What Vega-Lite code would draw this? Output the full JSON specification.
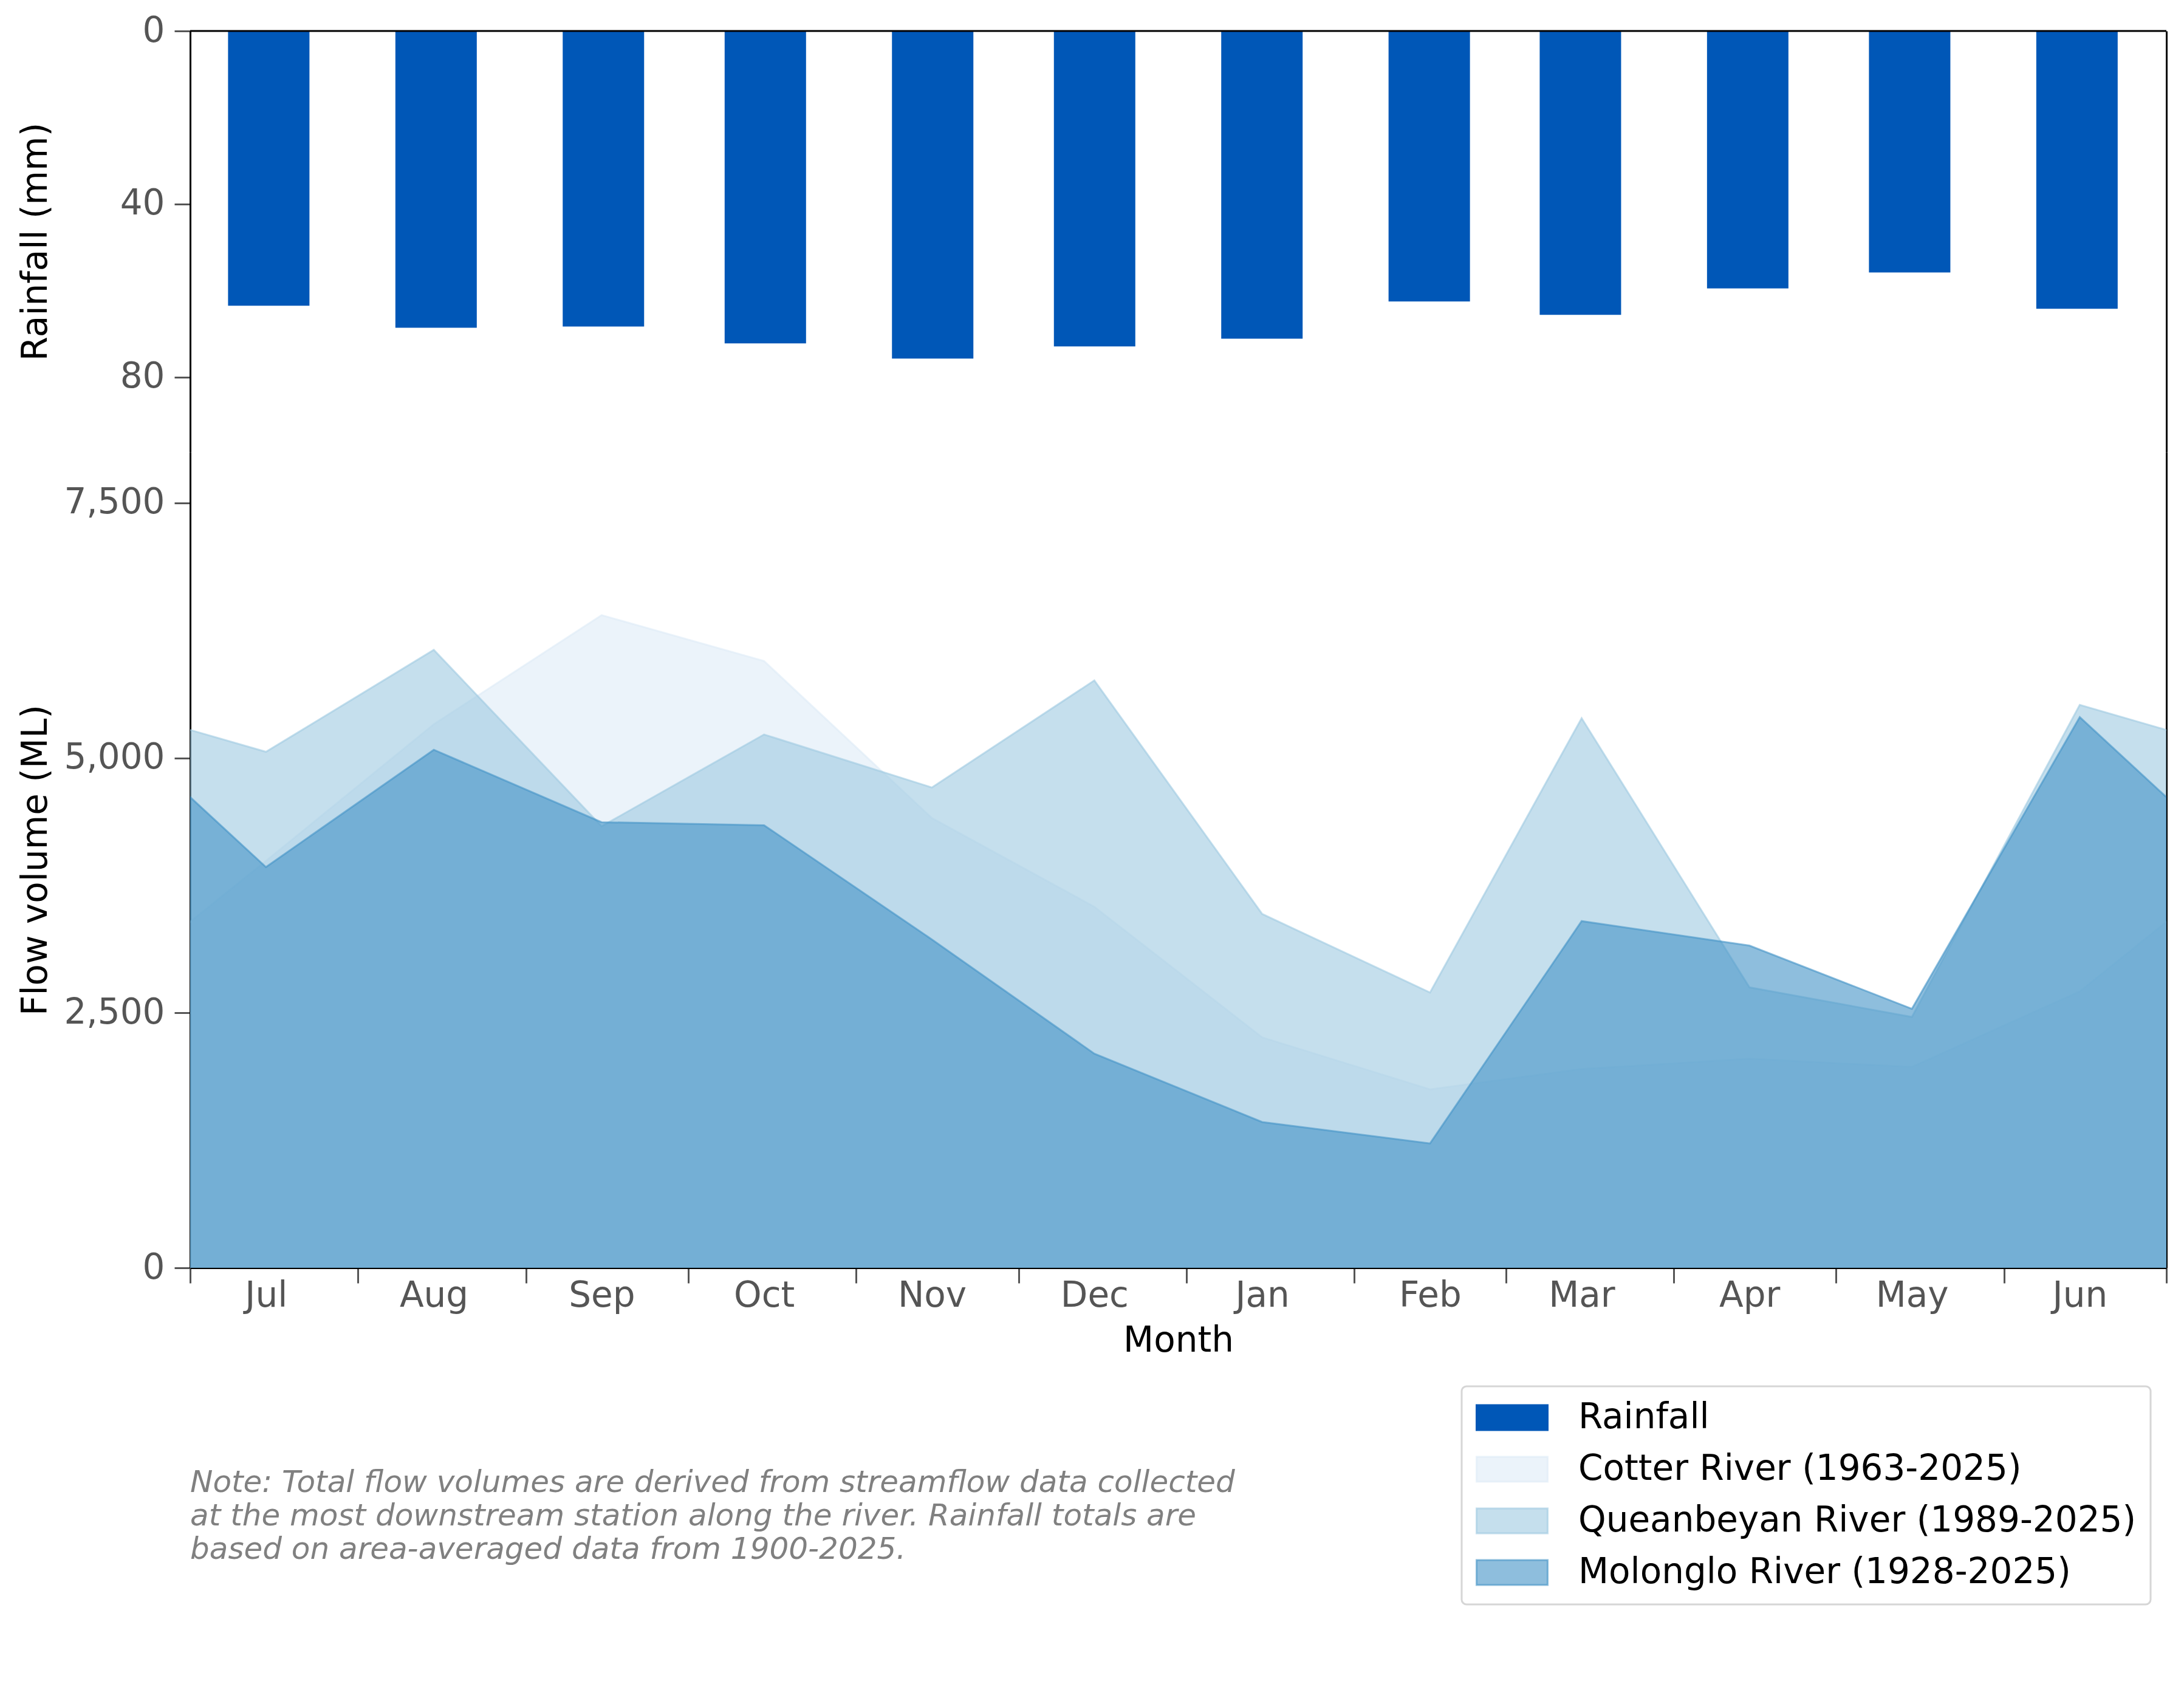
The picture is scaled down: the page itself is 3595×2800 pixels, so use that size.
{
  "$schema": "https://vega.github.io/schema/vega-lite/v6.json",
  "background": "white",
  "autosize": {"type": "pad"},
  "padding": {"left": 30, "top": 22, "right": 30, "bottom": 30},
  "config": {
    "font": "DejaVu Sans",
    "view": {"stroke": null},
    "legend": {"strokeWidth": 3},
    "axis": {
      "domainColor": "black",
      "domainWidth": 3,
      "tickColor": "#555555",
      "tickWidth": 3,
      "tickSize": 25,
      "labelFont": "DejaVu Sans",
      "labelFontSize": 58,
      "labelColor": "#555555",
      "titleFont": "DejaVu Sans",
      "titleFontSize": 58,
      "titleColor": "black",
      "titleFontWeight": "normal",
      "grid": false
    }
  },
  "datasets": {
    "rain": [
      {"month": "2022-07-15", "series": "Rainfall", "rain": 63.5},
      {"month": "2022-08-15", "series": "Rainfall", "rain": 68.6},
      {"month": "2022-09-15", "series": "Rainfall", "rain": 68.3},
      {"month": "2022-10-15", "series": "Rainfall", "rain": 72.2},
      {"month": "2022-11-15", "series": "Rainfall", "rain": 75.7},
      {"month": "2022-12-15", "series": "Rainfall", "rain": 72.9},
      {"month": "2023-01-15", "series": "Rainfall", "rain": 71.1},
      {"month": "2023-02-15", "series": "Rainfall", "rain": 62.5},
      {"month": "2023-03-15", "series": "Rainfall", "rain": 65.6},
      {"month": "2023-04-15", "series": "Rainfall", "rain": 59.5},
      {"month": "2023-05-15", "series": "Rainfall", "rain": 55.8},
      {"month": "2023-06-15", "series": "Rainfall", "rain": 64.2}
    ],
    "flow": [
      {"month": "2022-06-15", "series": "Cotter River (1963-2025)", "flow": 2710},
      {"month": "2022-07-15", "series": "Cotter River (1963-2025)", "flow": 3990},
      {"month": "2022-08-15", "series": "Cotter River (1963-2025)", "flow": 5330},
      {"month": "2022-09-15", "series": "Cotter River (1963-2025)", "flow": 6400},
      {"month": "2022-10-15", "series": "Cotter River (1963-2025)", "flow": 5950},
      {"month": "2022-11-15", "series": "Cotter River (1963-2025)", "flow": 4410},
      {"month": "2022-12-15", "series": "Cotter River (1963-2025)", "flow": 3540},
      {"month": "2023-01-15", "series": "Cotter River (1963-2025)", "flow": 2260},
      {"month": "2023-02-15", "series": "Cotter River (1963-2025)", "flow": 1750},
      {"month": "2023-03-15", "series": "Cotter River (1963-2025)", "flow": 1950},
      {"month": "2023-04-15", "series": "Cotter River (1963-2025)", "flow": 2050},
      {"month": "2023-05-15", "series": "Cotter River (1963-2025)", "flow": 1970},
      {"month": "2023-06-15", "series": "Cotter River (1963-2025)", "flow": 2710},
      {"month": "2023-07-15", "series": "Cotter River (1963-2025)", "flow": 3990},
      {"month": "2022-06-15", "series": "Queanbeyan River (1989-2025)", "flow": 5520},
      {"month": "2022-07-15", "series": "Queanbeyan River (1989-2025)", "flow": 5060},
      {"month": "2022-08-15", "series": "Queanbeyan River (1989-2025)", "flow": 6060},
      {"month": "2022-09-15", "series": "Queanbeyan River (1989-2025)", "flow": 4330},
      {"month": "2022-10-15", "series": "Queanbeyan River (1989-2025)", "flow": 5230},
      {"month": "2022-11-15", "series": "Queanbeyan River (1989-2025)", "flow": 4710},
      {"month": "2022-12-15", "series": "Queanbeyan River (1989-2025)", "flow": 5760},
      {"month": "2023-01-15", "series": "Queanbeyan River (1989-2025)", "flow": 3470},
      {"month": "2023-02-15", "series": "Queanbeyan River (1989-2025)", "flow": 2700},
      {"month": "2023-03-15", "series": "Queanbeyan River (1989-2025)", "flow": 5390},
      {"month": "2023-04-15", "series": "Queanbeyan River (1989-2025)", "flow": 2750},
      {"month": "2023-05-15", "series": "Queanbeyan River (1989-2025)", "flow": 2460},
      {"month": "2023-06-15", "series": "Queanbeyan River (1989-2025)", "flow": 5520},
      {"month": "2023-07-15", "series": "Queanbeyan River (1989-2025)", "flow": 5060},
      {"month": "2022-06-15", "series": "Molonglo River (1928-2025)", "flow": 5400},
      {"month": "2022-07-15", "series": "Molonglo River (1928-2025)", "flow": 3930},
      {"month": "2022-08-15", "series": "Molonglo River (1928-2025)", "flow": 5080},
      {"month": "2022-09-15", "series": "Molonglo River (1928-2025)", "flow": 4370},
      {"month": "2022-10-15", "series": "Molonglo River (1928-2025)", "flow": 4340},
      {"month": "2022-11-15", "series": "Molonglo River (1928-2025)", "flow": 3220},
      {"month": "2022-12-15", "series": "Molonglo River (1928-2025)", "flow": 2100},
      {"month": "2023-01-15", "series": "Molonglo River (1928-2025)", "flow": 1430},
      {"month": "2023-02-15", "series": "Molonglo River (1928-2025)", "flow": 1220},
      {"month": "2023-03-15", "series": "Molonglo River (1928-2025)", "flow": 3400},
      {"month": "2023-04-15", "series": "Molonglo River (1928-2025)", "flow": 3160},
      {"month": "2023-05-15", "series": "Molonglo River (1928-2025)", "flow": 2540},
      {"month": "2023-06-15", "series": "Molonglo River (1928-2025)", "flow": 5400},
      {"month": "2023-07-15", "series": "Molonglo River (1928-2025)", "flow": 3930}
    ]
  },
  "spacing": 0,
  "bounds": "flush",
  "resolve": {"scale": {"color": "shared"}, "legend": {"color": "shared"}},
  "vconcat": [
    {
      "width": 3253,
      "height": 693,
      "layer": [
        {
          "data": {"name": "rain"},
          "mark": {"type": "bar", "width": 134},
          "encoding": {
            "x": {
              "field": "month",
              "type": "temporal",
              "scale": {"type": "utc", "domain": [{"year": 2022, "month": 7, "date": 1, "utc": true}, {"year": 2023, "month": 7, "date": 1, "utc": true}]},
              "axis": null
            },
            "y": {
              "field": "rain",
              "type": "quantitative",
              "scale": {"domain": [0, 97.3], "reverse": true, "nice": false, "zero": true},
              "axis": {"orient": "left", "values": [0, 40, 80], "format": ".0f", "title": "Rainfall (mm)", "titleX": -237, "titleBaseline": "alphabetic", "labelPadding": 16, "tickSize": 26}
            },
            "color": {
              "field": "series",
              "type": "nominal",
              "scale": {
                "domain": ["Rainfall", "Cotter River (1963-2025)", "Queanbeyan River (1989-2025)", "Molonglo River (1928-2025)"],
                "range": ["#0057b7", "rgba(222,235,247,0.6)", "rgba(158,202,225,0.6)", "rgba(66,146,198,0.6)"]
              },
              "legend": {"title": null, "orient": "none", "legendX": 2093, "legendY": 2231, "symbolType": "M-1,-0.35H1V0.35H-1Z", "symbolSize": 13689, "clipHeight": 57, "labelFont": "DejaVu Sans", "labelFontSize": 58, "labelColor": "black", "labelOffset": 49, "labelLimit": 3000, "rowPadding": 26, "padding": 23, "strokeColor": "#d6d6d6", "cornerRadius": 8, "fillColor": "white", "symbolStrokeWidth": 0, "encode": {"symbols": {"update": {"stroke": {"scale": "color", "field": "value"}, "strokeWidth": {"value": 3}}}}}
            }
          }
        },
        {
          "data": {"values": [{}]},
          "mark": {"type": "rule", "color": "black", "strokeWidth": 3},
          "encoding": {
            "y": {"datum": 0, "type": "quantitative", "axis": {"orient": "right", "labels": false, "ticks": false, "title": null}}
          }
        }
      ],
      "resolve": {"axis": {"y": "independent"}}
    },
    {
      "width": 3253,
      "height": 1343,
      "title": {
        "text": [
          "Note: Total flow volumes are derived from streamflow data collected",
          "at the most downstream station along the river. Rainfall totals are",
          "based on area-averaged data from 1900-2025."
        ],
        "orient": "bottom",
        "anchor": "start",
        "frame": "group",
        "font": "DejaVu Sans",
        "fontSize": 50,
        "fontStyle": "italic",
        "fontWeight": "normal",
        "color": "#808080",
        "lineHeight": 55,
        "offset": 180
      },
      "layer": [
        {
          "data": {"name": "flow"},
          "transform": [{"filter": "datum.series === 'Cotter River (1963-2025)'"}],
          "mark": {"type": "area", "clip": true, "opacity": 1},
          "encoding": {
            "x": {
              "field": "month",
              "type": "temporal",
              "scale": {"type": "utc", "domain": [{"year": 2022, "month": 7, "date": 1, "utc": true}, {"year": 2023, "month": 7, "date": 1, "utc": true}]},
              "axis": {
                "orient": "bottom",
                "values": [
                  {"year": 2022, "month": 7, "date": 1, "utc": true},
                  {"year": 2022, "month": 8, "date": 1, "utc": true},
                  {"year": 2022, "month": 9, "date": 1, "utc": true},
                  {"year": 2022, "month": 10, "date": 1, "utc": true},
                  {"year": 2022, "month": 11, "date": 1, "utc": true},
                  {"year": 2022, "month": 12, "date": 1, "utc": true},
                  {"year": 2023, "month": 1, "date": 1, "utc": true},
                  {"year": 2023, "month": 2, "date": 1, "utc": true},
                  {"year": 2023, "month": 3, "date": 1, "utc": true},
                  {"year": 2023, "month": 4, "date": 1, "utc": true},
                  {"year": 2023, "month": 5, "date": 1, "utc": true},
                  {"year": 2023, "month": 6, "date": 1, "utc": true},
                  {"year": 2023, "month": 7, "date": 1, "utc": true}
                ],
                "labels": false,
                "title": null,
                "tickSize": 25
              }
            },
            "y": {
              "field": "flow",
              "type": "quantitative",
              "stack": null,
              "scale": {"domain": [0, 8000], "nice": false},
              "axis": {"orient": "left", "values": [0, 2500, 5000, 7500], "format": ",.0f", "title": "Flow volume (ML)", "titleX": -237, "titleBaseline": "alphabetic", "labelPadding": 16, "tickSize": 26}
            },
            "color": {
              "field": "series",
              "type": "nominal",
              "scale": {
                "domain": ["Rainfall", "Cotter River (1963-2025)", "Queanbeyan River (1989-2025)", "Molonglo River (1928-2025)"],
                "range": ["#0057b7", "rgba(222,235,247,0.6)", "rgba(158,202,225,0.6)", "rgba(66,146,198,0.6)"]
              },
              "legend": {"title": null, "orient": "none", "legendX": 2093, "legendY": 2231, "symbolType": "M-1,-0.35H1V0.35H-1Z", "symbolSize": 13689, "clipHeight": 57, "labelFont": "DejaVu Sans", "labelFontSize": 58, "labelColor": "black", "labelOffset": 49, "labelLimit": 3000, "rowPadding": 26, "padding": 23, "strokeColor": "#d6d6d6", "cornerRadius": 8, "fillColor": "white", "symbolStrokeWidth": 0, "encode": {"symbols": {"update": {"stroke": {"scale": "color", "field": "value"}, "strokeWidth": {"value": 3}}}}}
            }
          }
        },
        {
          "data": {"name": "flow"},
          "transform": [{"filter": "datum.series === 'Cotter River (1963-2025)'"}],
          "mark": {"type": "line", "clip": true, "strokeWidth": 3, "stroke": "rgba(222,235,247,0.6)"},
          "encoding": {
            "x": {"field": "month", "type": "temporal", "axis": null},
            "y": {"field": "flow", "type": "quantitative", "axis": null}
          }
        },
        {
          "data": {"name": "flow"},
          "transform": [{"filter": "datum.series === 'Queanbeyan River (1989-2025)'"}],
          "mark": {"type": "area", "clip": true, "opacity": 1},
          "encoding": {
            "x": {"field": "month", "type": "temporal", "axis": null},
            "y": {"field": "flow", "type": "quantitative", "stack": null, "axis": null},
            "color": {
              "field": "series",
              "type": "nominal",
              "scale": {
                "domain": ["Rainfall", "Cotter River (1963-2025)", "Queanbeyan River (1989-2025)", "Molonglo River (1928-2025)"],
                "range": ["#0057b7", "rgba(222,235,247,0.6)", "rgba(158,202,225,0.6)", "rgba(66,146,198,0.6)"]
              },
              "legend": {"title": null, "orient": "none", "legendX": 2093, "legendY": 2231, "symbolType": "M-1,-0.35H1V0.35H-1Z", "symbolSize": 13689, "clipHeight": 57, "labelFont": "DejaVu Sans", "labelFontSize": 58, "labelColor": "black", "labelOffset": 49, "labelLimit": 3000, "rowPadding": 26, "padding": 23, "strokeColor": "#d6d6d6", "cornerRadius": 8, "fillColor": "white", "symbolStrokeWidth": 0, "encode": {"symbols": {"update": {"stroke": {"scale": "color", "field": "value"}, "strokeWidth": {"value": 3}}}}}
            }
          }
        },
        {
          "data": {"name": "flow"},
          "transform": [{"filter": "datum.series === 'Queanbeyan River (1989-2025)'"}],
          "mark": {"type": "line", "clip": true, "strokeWidth": 3, "stroke": "rgba(158,202,225,0.6)"},
          "encoding": {
            "x": {"field": "month", "type": "temporal", "axis": null},
            "y": {"field": "flow", "type": "quantitative", "axis": null}
          }
        },
        {
          "data": {"name": "flow"},
          "transform": [{"filter": "datum.series === 'Molonglo River (1928-2025)'"}],
          "mark": {"type": "area", "clip": true, "opacity": 1},
          "encoding": {
            "x": {"field": "month", "type": "temporal", "axis": null},
            "y": {"field": "flow", "type": "quantitative", "stack": null, "axis": null},
            "color": {
              "field": "series",
              "type": "nominal",
              "scale": {
                "domain": ["Rainfall", "Cotter River (1963-2025)", "Queanbeyan River (1989-2025)", "Molonglo River (1928-2025)"],
                "range": ["#0057b7", "rgba(222,235,247,0.6)", "rgba(158,202,225,0.6)", "rgba(66,146,198,0.6)"]
              },
              "legend": {"title": null, "orient": "none", "legendX": 2093, "legendY": 2231, "symbolType": "M-1,-0.35H1V0.35H-1Z", "symbolSize": 13689, "clipHeight": 57, "labelFont": "DejaVu Sans", "labelFontSize": 58, "labelColor": "black", "labelOffset": 49, "labelLimit": 3000, "rowPadding": 26, "padding": 23, "strokeColor": "#d6d6d6", "cornerRadius": 8, "fillColor": "white", "symbolStrokeWidth": 0, "encode": {"symbols": {"update": {"stroke": {"scale": "color", "field": "value"}, "strokeWidth": {"value": 3}}}}}
            }
          }
        },
        {
          "data": {"name": "flow"},
          "transform": [{"filter": "datum.series === 'Molonglo River (1928-2025)'"}],
          "mark": {"type": "line", "clip": true, "strokeWidth": 3, "stroke": "rgba(66,146,198,0.6)"},
          "encoding": {
            "x": {
              "field": "month",
              "type": "temporal",
              "axis": {
                "orient": "bottom",
                "values": [
                  {"year": 2022, "month": 7, "date": 15, "utc": true},
                  {"year": 2022, "month": 8, "date": 15, "utc": true},
                  {"year": 2022, "month": 9, "date": 15, "utc": true},
                  {"year": 2022, "month": 10, "date": 15, "utc": true},
                  {"year": 2022, "month": 11, "date": 15, "utc": true},
                  {"year": 2022, "month": 12, "date": 15, "utc": true},
                  {"year": 2023, "month": 1, "date": 15, "utc": true},
                  {"year": 2023, "month": 2, "date": 15, "utc": true},
                  {"year": 2023, "month": 3, "date": 15, "utc": true},
                  {"year": 2023, "month": 4, "date": 15, "utc": true},
                  {"year": 2023, "month": 5, "date": 15, "utc": true},
                  {"year": 2023, "month": 6, "date": 15, "utc": true}
                ],
                "ticks": false,
                "tickSize": 0,
                "domain": false,
                "labelExpr": "utcFormat(datum.value, '%b')",
                "labelPadding": 17,
                "labelOverlap": false,
                "labelFlush": false,
                "title": "Month",
                "titleY": 137,
                "titleBaseline": "alphabetic"
              }
            },
            "y": {
              "field": "flow",
              "type": "quantitative",
              "axis": {"orient": "right", "labels": false, "ticks": false, "title": null}
            }
          }
        }
      ],
      "resolve": {"axis": {"x": "independent", "y": "independent"}}
    }
  ]
}
